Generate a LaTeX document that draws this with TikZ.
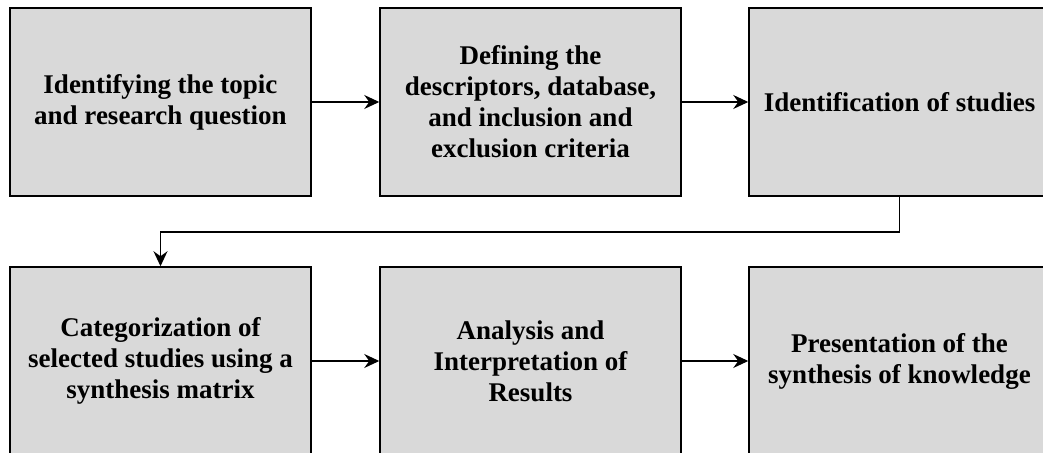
\documentclass[tikz,border=0pt]{standalone}
\usepackage{fontspec}
\setmainfont{Liberation Serif}
\usetikzlibrary{arrows.meta}
\tikzset{
  stepbox/.style={draw=black, line width=1.5pt, fill=boxgray,
    minimum width=301pt, minimum height=188pt, inner sep=0pt,
    align=center, font=\fontsize{27}{31}\selectfont\bfseries},
  flow/.style={line width=1.4pt, -{Stealth[length=15pt,width=14pt,inset=5pt]}}
}
\definecolor{boxgray}{HTML}{D9D9D9}
\begin{document}
\begin{tikzpicture}[x=1pt,y=1pt]
  \clip (0,0) rectangle (1043,452);
  \fill[white] (0,0) rectangle (1043,452);
  % top row
  \node[stepbox] (topic) at (160.5,350) {Identifying the topic\\and research question};
  \node[stepbox] (define) at (530.5,350) {Defining the\\descriptors, database,\\and inclusion and\\exclusion criteria};
  \node[stepbox] (ident) at (899.5,350) {Identification of studies};
  % bottom row
  \node[stepbox] (categ) at (160.5,91) {Categorization of\\selected studies using a\\synthesis matrix};
  \node[stepbox] (analysis) at (530.5,91) {Analysis and\\Interpretation of\\Results};
  \node[stepbox] (present) at (899.5,91) {Presentation of the\\synthesis of knowledge};
  % connectors
  \draw[flow] (topic.east) -- (define.west);
  \draw[flow] (define.east) -- (ident.west);
  \coordinate (bend) at (899.5,220);
  \draw[flow] (ident.south) -- (bend) -| (categ.north);
  \draw[flow] (categ.east) -- (analysis.west);
  \draw[flow] (analysis.east) -- (present.west);
\end{tikzpicture}
\end{document}
